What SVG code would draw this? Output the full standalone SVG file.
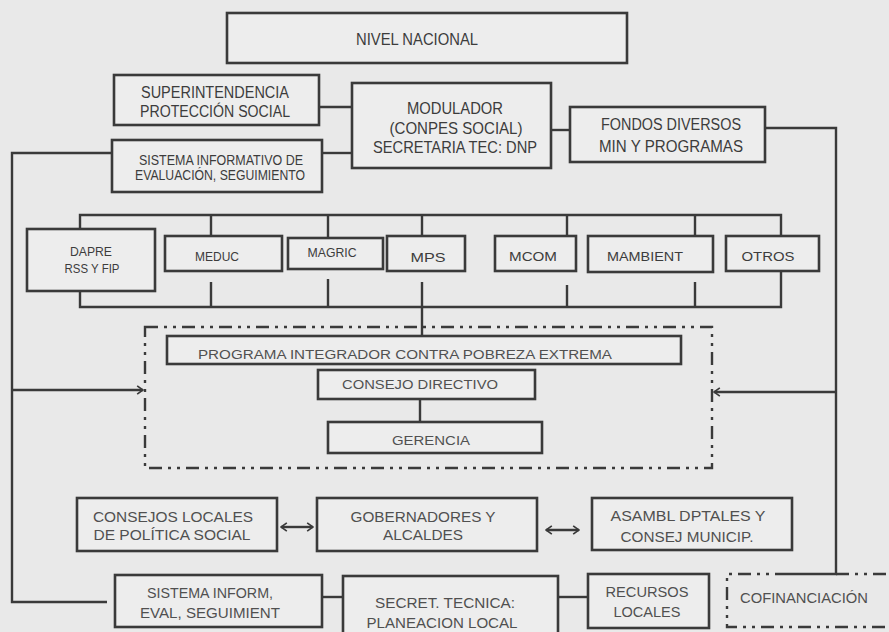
<svg xmlns="http://www.w3.org/2000/svg" width="889" height="632" viewBox="0 0 889 632">
<defs>
<style>
.bx{fill:#ededed;stroke:#3a3a3a;stroke-width:2.6}
.ln{fill:none;stroke:#3a3a3a;stroke-width:2.4}
.dd{fill:none;stroke:#3a3a3a;stroke-width:2.4;stroke-dasharray:13 6 3 6 3 6}
.t{font-family:"Liberation Sans",Arial,sans-serif;fill:#3c3c3c;text-anchor:middle}
.a{font-size:16px}
.m{font-size:17px}
.b{font-size:14px}
.n{font-size:13.5px}
.c{font-size:14px;fill:#505050}
.p{font-size:12.5px;fill:#505050}
</style>
<marker id="ah2" viewBox="0 0 12 12" refX="11" refY="6" markerWidth="10" markerHeight="10" orient="auto-start-reverse" markerUnits="userSpaceOnUse">
<path d="M4,1 L11,6 L4,11" fill="none" stroke="#3a3a3a" stroke-width="2"/>
</marker>
</defs>
<rect width="889" height="632" fill="#e9e9e9"/>

<g id="connectors">
<path class="ln" d="M319,107 H352"/>
<path class="ln" d="M322,153 H352"/>
<path class="ln" d="M551,130 H570"/>
<path class="ln" d="M112,153 H12 V602 H107"/>
<path class="ln" d="M12,390 H143" marker-end="url(#ah2)"/>
<path class="ln" d="M765,128 H836 V574 H788"/>
<path class="ln" d="M836,392 H714" marker-end="url(#ah2)"/>
<path class="ln" d="M80,229 V215 H781 V236"/>
<path class="ln" d="M211,215 V236 M328,215 V238 M422,215 V236 M567,215 V236 M695,215 V236"/>
<path class="ln" d="M80,291 V307 H781 V271"/>
<path class="ln" d="M211,282 V307 M328,279 V307 M567,285 V307 M695,282 V307 M422,282 V336"/>
<path class="ln" d="M420,399 V422"/>
<path class="ln" d="M281,527 H313" marker-start="url(#ah2)" marker-end="url(#ah2)"/>
<path class="ln" d="M546,530 H579" marker-start="url(#ah2)" marker-end="url(#ah2)"/>
<path class="ln" d="M322,597 H343"/>
<path class="ln" d="M558,597 H588"/>
</g>

<g id="nivel-nacional"><rect class="bx" x="227" y="13" width="400" height="50"/>
<text class="t a" x="417" y="45" textLength="122" lengthAdjust="spacingAndGlyphs">NIVEL NACIONAL</text></g>

<g id="superintendencia"><rect class="bx" x="114" y="75" width="205" height="50"/>
<text class="t a" x="215" y="98" textLength="148" lengthAdjust="spacingAndGlyphs">SUPERINTENDENCIA</text>
<text class="t a" x="215" y="117" textLength="150" lengthAdjust="spacingAndGlyphs">PROTECCIÓN SOCIAL</text></g>

<g id="modulador"><rect class="bx" x="352" y="83" width="199" height="85"/>
<text class="t m" x="455" y="114" textLength="96" lengthAdjust="spacingAndGlyphs">MODULADOR</text>
<text class="t m" x="456" y="134" textLength="133" lengthAdjust="spacingAndGlyphs">(CONPES SOCIAL)</text>
<text class="t m" x="455" y="153" textLength="164" lengthAdjust="spacingAndGlyphs">SECRETARIA TEC: DNP</text></g>

<g id="sistema-informativo"><rect class="bx" x="112" y="140" width="210" height="52"/>
<text class="t b" x="221" y="165" textLength="164" lengthAdjust="spacingAndGlyphs">SISTEMA INFORMATIVO DE</text>
<text class="t b" x="220" y="180" textLength="170" lengthAdjust="spacingAndGlyphs">EVALUACIÓN, SEGUIMIENTO</text></g>

<g id="fondos"><rect class="bx" x="570" y="107" width="195" height="55"/>
<text class="t a" x="671" y="130" textLength="140" lengthAdjust="spacingAndGlyphs">FONDOS DIVERSOS</text>
<text class="t a" x="671" y="152" textLength="144" lengthAdjust="spacingAndGlyphs">MIN Y PROGRAMAS</text></g>

<g id="dapre"><rect class="bx" x="27" y="229" width="128" height="62"/>
<text class="t n" x="91" y="256" textLength="42" lengthAdjust="spacingAndGlyphs">DAPRE</text>
<text class="t n" x="92" y="273" textLength="55" lengthAdjust="spacingAndGlyphs">RSS Y FIP</text></g>

<g id="meduc"><rect class="bx" x="165" y="236" width="117" height="35"/>
<text class="t n" x="217" y="261" textLength="44" lengthAdjust="spacingAndGlyphs">MEDUC</text></g>

<g id="magric"><rect class="bx" x="288" y="238" width="95" height="31"/>
<text class="t n" x="332" y="257" textLength="49" lengthAdjust="spacingAndGlyphs">MAGRIC</text></g>

<g id="mps"><rect class="bx" x="387" y="236" width="78" height="35"/>
<text class="t n" x="428" y="262" textLength="35" lengthAdjust="spacingAndGlyphs">MPS</text></g>

<g id="mcom"><rect class="bx" x="495" y="236" width="81" height="35"/>
<text class="t n" x="533" y="261" textLength="48" lengthAdjust="spacingAndGlyphs">MCOM</text></g>

<g id="mambient"><rect class="bx" x="588" y="236" width="125" height="36"/>
<text class="t n" x="645" y="261" textLength="76" lengthAdjust="spacingAndGlyphs">MAMBIENT</text></g>

<g id="otros"><rect class="bx" x="726" y="236" width="93" height="35"/>
<text class="t n" x="768" y="261" textLength="53" lengthAdjust="spacingAndGlyphs">OTROS</text></g>

<g id="programa-grupo"><rect class="dd" x="145" y="327" width="567" height="141"/></g>

<g id="programa"><rect class="bx" x="167" y="336" width="514" height="28"/>
<text class="t p" x="405" y="359" textLength="414" lengthAdjust="spacingAndGlyphs">PROGRAMA INTEGRADOR CONTRA POBREZA EXTREMA</text></g>

<g id="consejo-directivo"><rect class="bx" x="318" y="370" width="217" height="29"/>
<text class="t p" x="420" y="389" textLength="156" lengthAdjust="spacingAndGlyphs">CONSEJO DIRECTIVO</text></g>

<g id="gerencia"><rect class="bx" x="328" y="422" width="214" height="31"/>
<text class="t p" x="431" y="445" textLength="78" lengthAdjust="spacingAndGlyphs">GERENCIA</text></g>

<g id="consejos-locales"><rect class="bx" x="77" y="498" width="200" height="53"/>
<text class="t c" x="173" y="522" textLength="160" lengthAdjust="spacingAndGlyphs">CONSEJOS LOCALES</text>
<text class="t c" x="172" y="540" textLength="157" lengthAdjust="spacingAndGlyphs">DE POLÍTICA SOCIAL</text></g>

<g id="gobernadores"><rect class="bx" x="317" y="498" width="220" height="53"/>
<text class="t c" x="423" y="522" textLength="145" lengthAdjust="spacingAndGlyphs">GOBERNADORES Y</text>
<text class="t c" x="423" y="540" textLength="80" lengthAdjust="spacingAndGlyphs">ALCALDES</text></g>

<g id="asambleas"><rect class="bx" x="592" y="498" width="200" height="52"/>
<text class="t c" x="688" y="521" textLength="155" lengthAdjust="spacingAndGlyphs">ASAMBL DPTALES Y</text>
<text class="t c" x="687" y="542" textLength="133" lengthAdjust="spacingAndGlyphs">CONSEJ MUNICIP.</text></g>

<g id="sistema-local"><rect class="bx" x="115" y="575" width="207" height="52"/>
<text class="t c" x="210" y="598" textLength="126" lengthAdjust="spacingAndGlyphs">SISTEMA INFORM,</text>
<text class="t c" x="210" y="618" textLength="140" lengthAdjust="spacingAndGlyphs">EVAL, SEGUIMIENT</text></g>

<g id="secretaria-tecnica"><rect class="bx" x="343" y="576" width="215" height="62"/>
<text class="t c" x="445" y="608" textLength="140" lengthAdjust="spacingAndGlyphs">SECRET. TECNICA:</text>
<text class="t c" x="442" y="628" textLength="151" lengthAdjust="spacingAndGlyphs">PLANEACION LOCAL</text></g>

<g id="recursos-locales"><rect class="bx" x="588" y="574" width="121" height="54"/>
<text class="t c" x="647" y="597" textLength="83" lengthAdjust="spacingAndGlyphs">RECURSOS</text>
<text class="t c" x="647" y="617" textLength="67" lengthAdjust="spacingAndGlyphs">LOCALES</text></g>

<g id="cofinanciacion"><path class="dd" d="M788,574 H727 V627 H895 M836,574 H895"/>
<text class="t c" x="804" y="603" textLength="128" lengthAdjust="spacingAndGlyphs">COFINANCIACIÓN</text></g>
</svg>
